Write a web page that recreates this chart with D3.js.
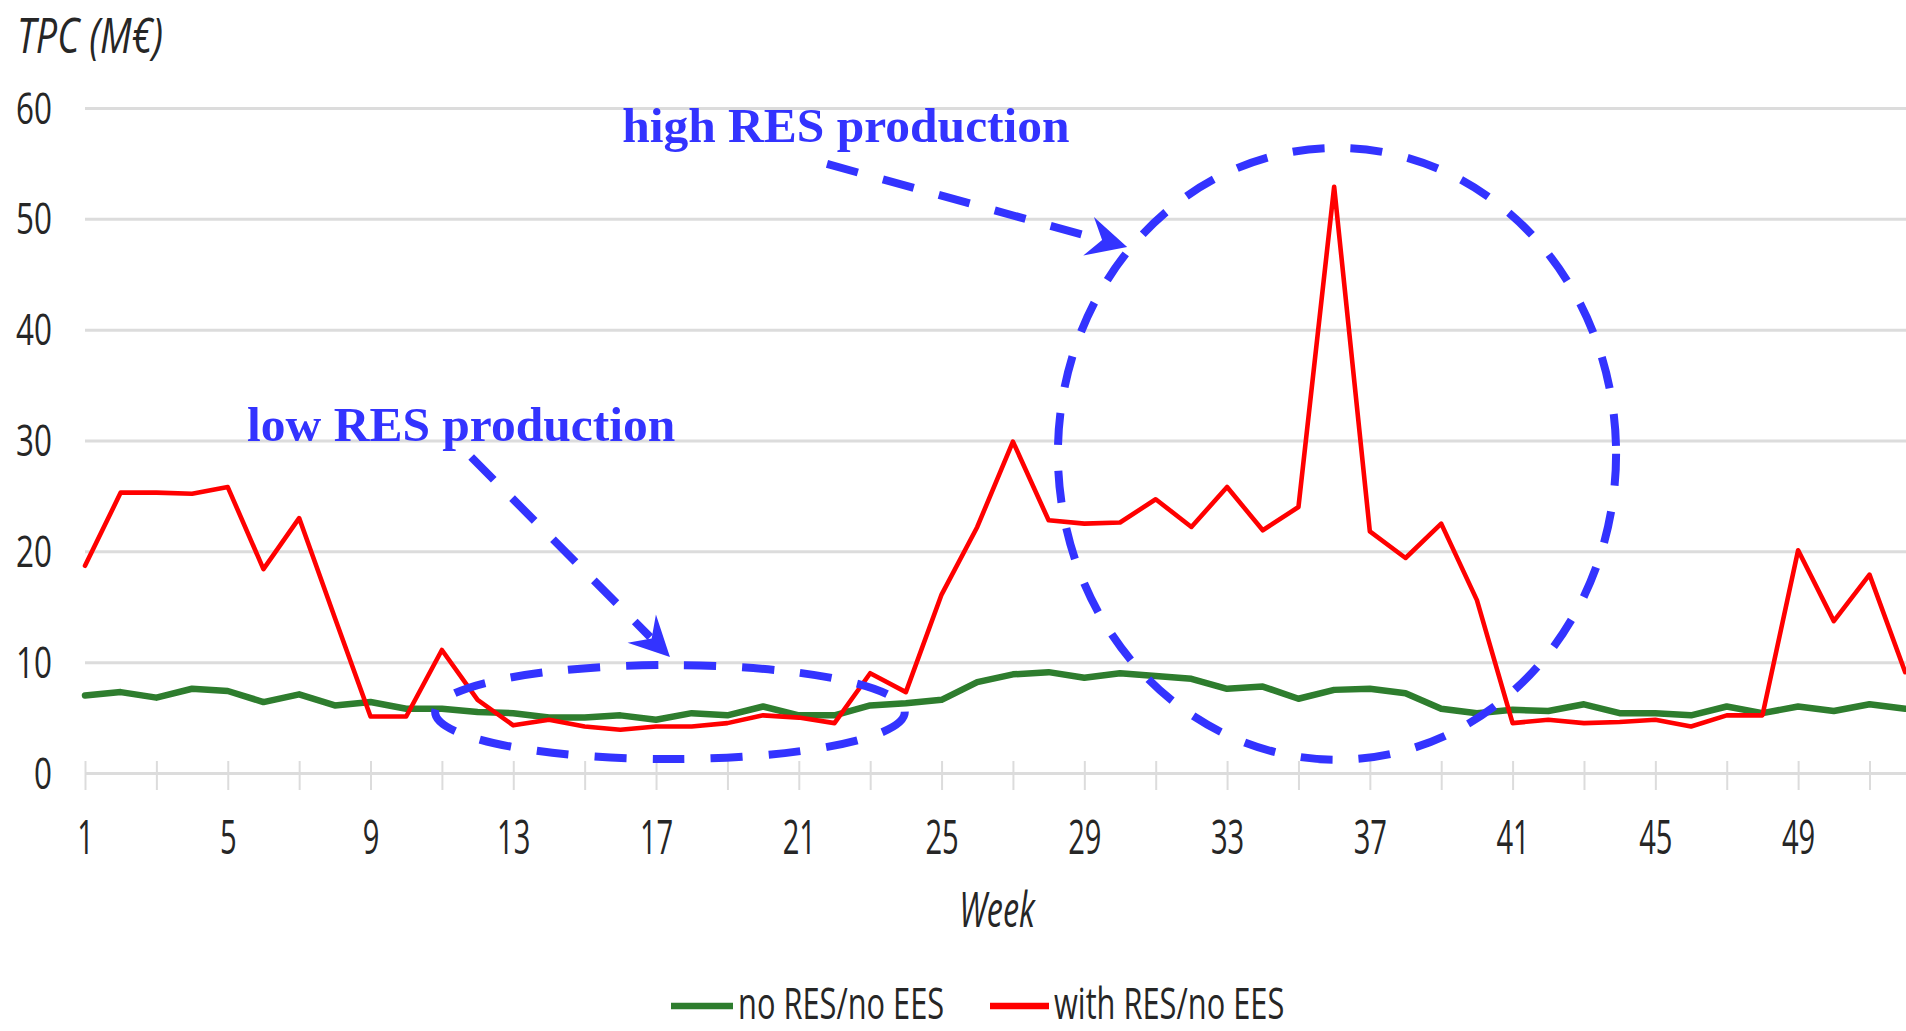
<!DOCTYPE html>
<html>
<head>
<meta charset="utf-8">
<script src="https://cdn.jsdelivr.net/npm/d3@7"></script>
<style>
  html, body { margin: 0; padding: 0; background: #ffffff; }
  svg { display: block; }
</style>
</head>
<body>
<svg id="chart" width="1906" height="1031"></svg>
<script>
// ---------- data ----------
const weeks = [1,2,3,4,5,6,7,8,9,10,11,12,13,14,15,16,17,18,19,20,21,22,23,24,25,26,
               27,28,29,30,31,32,33,34,35,36,37,38,39,40,41,42,43,44,45,46,47,48,49,50,51,52];
const noResNoEes = [7.0, 7.3, 6.8, 7.6, 7.4, 6.4, 7.1, 6.1, 6.4, 5.8,
                    5.8, 5.5, 5.4, 5.0, 5.0, 5.2, 4.8, 5.4, 5.2, 6.0,
                    5.2, 5.2, 6.1, 6.3, 6.6, 8.2, 8.9, 9.1, 8.6, 9.0,
                    8.75, 8.5, 7.6, 7.8, 6.7, 7.5, 7.6, 7.2, 5.8, 5.4,
                    5.7, 5.6, 6.2, 5.4, 5.4, 5.2, 6.0, 5.4, 6.0, 5.6,
                    6.2, 5.8];
const withResNoEes = [18.7, 25.3, 25.3, 25.2, 25.8, 18.4, 23.0, 14.0, 5.1, 5.1,
                      11.1, 6.6, 4.3, 4.8, 4.2, 3.9, 4.2, 4.2, 4.5, 5.2,
                      5.0, 4.5, 9.0, 7.3, 16.1, 22.2, 29.9, 22.8, 22.5, 22.6,
                      24.7, 22.2, 25.8, 21.9, 24.0, 52.9, 21.8, 19.4, 22.5, 15.6,
                      4.5, 4.8, 4.5, 4.6, 4.8, 4.2, 5.2, 5.2, 20.1, 13.7,
                      17.9, 9.1];
const seriesNames = ["no RES/no EES", "with RES/no EES"];
const yTickValues = [0, 10, 20, 30, 40, 50, 60];
const xLabelWeeks = [1, 5, 9, 13, 17, 21, 25, 29, 33, 37, 41, 45, 49];
const xTickMarkWeeks = [1,3,5,7,9,11,13,15,17,19,21,23,25,27,29,31,33,35,37,39,41,43,45,47,49,51];
const yTitle = "TPC (M€)";
const xTitle = "Week";
const annotationTexts = ["high RES production", "low RES production"];

// ---------- layout ----------
const W = 1906, H = 1031;
const svg = d3.select("#chart");
const x = d3.scaleLinear().domain([1, 52]).range([85, 85 + 51 * 35.69]);
const y = d3.scaleLinear().domain([0, 60]).range([773, 108]);
const GREEN = "#2e7d2e", RED = "#ff0000", BLUE = "#3333ff";
const sansFont = "'Open Sans', 'Noto Sans', sans-serif";

// y axis + gridlines
const yAxis = d3.axisLeft(y).tickValues(yTickValues).tickSize(-(W - 85)).tickFormat(d3.format("d"));
const gy = svg.append("g").attr("transform", "translate(85,0)").call(yAxis);
gy.select(".domain").remove();
gy.selectAll(".tick line").attr("stroke", "#dcdcdc").attr("stroke-width", 3);
gy.selectAll(".tick text")
  .attr("x", null).attr("dy", null)
  .attr("text-anchor", "end")
  .attr("transform", "translate(-33,15) scale(0.73,1)")
  .style("font-family", sansFont).style("font-size", "43px").attr("fill", "#262626");

// x tick marks
const xTickAxis = d3.axisBottom(x).tickValues(xTickMarkWeeks).tickSize(29).tickFormat("");
const gxt = svg.append("g").attr("transform", "translate(0,761)").call(xTickAxis);
gxt.select(".domain").remove();
gxt.selectAll(".tick line").attr("stroke", "#dcdcdc").attr("stroke-width", 2);

// x labels
const xLabAxis = d3.axisBottom(x).tickValues(xLabelWeeks).tickSize(0).tickFormat(d3.format("d"));
const gxl = svg.append("g").attr("transform", "translate(0,773)").call(xLabAxis);
gxl.select(".domain").remove();
gxl.selectAll(".tick text")
  .attr("y", null).attr("dy", null)
  .attr("transform", "translate(0,81) scale(0.62,1)")
  .attr("text-anchor", "middle")
  .style("font-family", sansFont).style("font-size", "47px").attr("fill", "#262626");

// axis titles
svg.append("text").text(yTitle)
  .attr("transform", "translate(17,53) scale(0.77,1)")
  .style("font-family", sansFont).style("font-size", "49px").style("font-style", "italic")
  .attr("fill", "#262626");
svg.append("text").text(xTitle)
  .attr("text-anchor", "middle")
  .attr("transform", "translate(997,927) scale(0.66,1)")
  .style("font-family", sansFont).style("font-size", "49px").style("font-style", "italic")
  .attr("fill", "#262626");

// lines
const line = d3.line().x((d, i) => x(weeks[i])).y(d => y(d));
svg.append("path").datum(noResNoEes).attr("d", line)
  .attr("fill", "none").attr("stroke", GREEN).attr("stroke-width", 6.5)
  .attr("stroke-linejoin", "round").attr("stroke-linecap", "round");
svg.append("path").datum(withResNoEes).attr("d", line)
  .attr("fill", "none").attr("stroke", RED).attr("stroke-width", 4.6)
  .attr("stroke-linejoin", "round").attr("stroke-linecap", "round");

// legend
const legendItems = [
  { name: seriesNames[0], color: GREEN, x0: 671, x1: 733, tx: 738 },
  { name: seriesNames[1], color: RED, x0: 990, x1: 1049, tx: 1054 }
];
legendItems.forEach(it => {
  svg.append("line").attr("x1", it.x0).attr("x2", it.x1).attr("y1", 1006).attr("y2", 1006)
    .attr("stroke", it.color).attr("stroke-width", 6.5);
  svg.append("text").text(it.name)
    .attr("transform", `translate(${it.tx},1019) scale(0.70,1)`)
    .style("font-family", sansFont).style("font-size", "44px").attr("fill", "#262626");
});

// ---------- annotations (in data units) ----------
const ellipses = [
  { cw: 17.39, cv: 5.5, rw: 6.58, rv: 4.24 },
  { cw: 36.08, cv: 28.8, rw: 7.82, rv: 27.6 }
];
const arrows = [
  { w0: 21.79, v0: 54.95, w1: 30.2, v1: 47.46 },
  { w0: 11.82, v0: 28.51, w1: 17.39, v1: 10.47 }
];
const labels = [
  { text: annotationTexts[0], w: 16.05, v: 56.93 },
  { text: annotationTexts[1], w: 5.54, v: 29.96 }
];
const pxPerWeek = x(2) - x(1), pxPerUnit = y(0) - y(1);

const ann = svg.append("g");
ellipses.forEach(e => {
  ann.append("ellipse")
    .attr("cx", x(e.cw)).attr("cy", y(e.cv))
    .attr("rx", e.rw * pxPerWeek).attr("ry", e.rv * pxPerUnit)
    .attr("fill", "none").attr("stroke", BLUE).attr("stroke-width", 8)
    .attr("stroke-dasharray", "32 26");
});
arrows.forEach(a => {
  const X0 = x(a.w0), Y0 = y(a.v0), X1 = x(a.w1), Y1 = y(a.v1);
  const L = Math.hypot(X1 - X0, Y1 - Y0);
  const ux = (X1 - X0) / L, uy = (Y1 - Y0) / L;
  const nx = -uy, ny = ux;
  const back = 40, half = 20, notch = 26;
  ann.append("line")
    .attr("x1", X0).attr("y1", Y0)
    .attr("x2", X1 - ux * (notch + 2)).attr("y2", Y1 - uy * (notch + 2))
    .attr("stroke", BLUE).attr("stroke-width", 8).attr("stroke-dasharray", "32 26");
  const pts = [
    [X1, Y1],
    [X1 - ux * back + nx * half, Y1 - uy * back + ny * half],
    [X1 - ux * notch, Y1 - uy * notch],
    [X1 - ux * back - nx * half, Y1 - uy * back - ny * half]
  ];
  ann.append("path").attr("d", "M" + pts.map(p => p.join(",")).join("L") + "Z").attr("fill", BLUE);
});
labels.forEach(l => {
  ann.append("text").text(l.text)
    .attr("x", x(l.w)).attr("y", y(l.v))
    .style("font-family", "'Liberation Serif', 'Times New Roman', serif")
    .style("font-weight", "bold").style("font-size", "49.5px")
    .attr("fill", BLUE);
});
</script>
</body>
</html>
